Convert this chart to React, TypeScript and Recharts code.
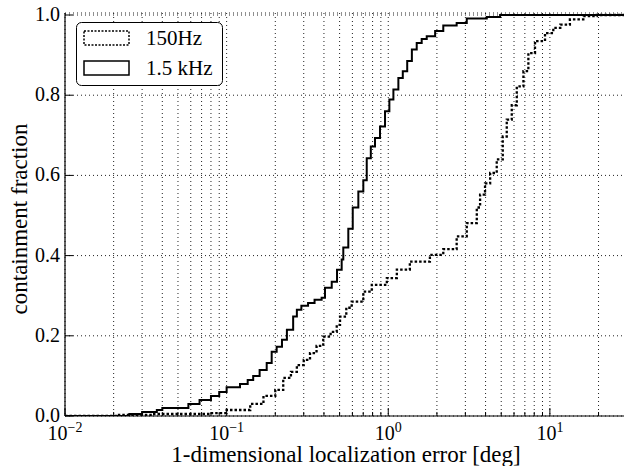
import { LineChart, Line, XAxis, YAxis, CartesianGrid, Legend } from "recharts";

const FONT = "'Liberation Serif', 'Times New Roman', serif";

// 150Hz curve (dotted): error [deg] and containment fraction
const hzError = [
  0.01, 0.021, 0.035, 0.052, 0.079, 0.1, 0.14, 0.169, 0.2, 0.224, 0.25, 0.272, 0.3, 0.328, 0.36,
  0.396, 0.44, 0.48, 0.503, 0.55, 0.594, 0.701, 0.791, 0.98, 1.13, 1.36, 1.81, 2.19, 2.65, 3.06,
  3.53, 3.7, 3.97, 4.27, 4.69, 5.11, 5.41, 5.81, 6.24, 6.86, 7.36, 8.09, 9.33, 10.5, 11.6, 13.3,
  16.1, 19.5, 30,
];
const hzFraction = [
  0, 0.003, 0.005, 0.005, 0.007, 0.015, 0.03, 0.05, 0.065, 0.095, 0.11, 0.127, 0.14, 0.157, 0.175,
  0.198, 0.21, 0.227, 0.248, 0.27, 0.285, 0.31, 0.327, 0.344, 0.365, 0.385, 0.402, 0.416, 0.448,
  0.481, 0.52, 0.552, 0.58, 0.606, 0.64, 0.697, 0.739, 0.775, 0.822, 0.86, 0.905, 0.935, 0.955,
  0.968, 0.976, 0.989, 0.997, 1.0, 1.0,
];

// 1.5 kHz curve (solid)
const khzError = [
  0.01, 0.02, 0.025, 0.03, 0.037, 0.04, 0.052, 0.058, 0.068, 0.08, 0.09, 0.1, 0.121, 0.135, 0.146,
  0.16, 0.177, 0.19, 0.204, 0.22, 0.236, 0.258, 0.272, 0.29, 0.319, 0.35, 0.387, 0.406, 0.447,
  0.482, 0.515, 0.527, 0.566, 0.603, 0.653, 0.701, 0.736, 0.78, 0.828, 0.889, 0.955, 1.016, 1.076,
  1.155, 1.23, 1.31, 1.4, 1.5, 1.61, 1.73, 1.95, 2.19, 2.65, 3.06, 4.07, 4.92, 30,
];
const khzFraction = [
  0, 0, 0.005, 0.01, 0.015, 0.02, 0.02, 0.03, 0.04, 0.05, 0.06, 0.072, 0.08, 0.09, 0.1, 0.115,
  0.132, 0.16, 0.173, 0.19, 0.215, 0.248, 0.265, 0.275, 0.282, 0.29, 0.295, 0.32, 0.335, 0.365,
  0.39, 0.42, 0.467, 0.52, 0.56, 0.588, 0.643, 0.672, 0.693, 0.722, 0.76, 0.789, 0.814, 0.843,
  0.86, 0.885, 0.914, 0.93, 0.94, 0.947, 0.96, 0.974, 0.98, 0.991, 0.995, 1.0, 1.0,
];

const majorTicks = [0.01, 0.1, 1, 10];
const minorTicks = [
  0.02, 0.03, 0.04, 0.05, 0.06, 0.07, 0.08, 0.09, 0.2, 0.3, 0.4, 0.5, 0.6, 0.7, 0.8, 0.9, 2, 3, 4,
  5, 6, 7, 8, 9, 20,
];
const yTicks = [0, 0.2, 0.4, 0.6, 0.8, 1.0];
const seriesNames = ["150Hz", "1.5 kHz"];

const hzData = hzError.map((x, i) => ({ x, y: hzFraction[i] }));
const khzData = khzError.map((x, i) => ({ x, y: khzFraction[i] }));
const xTicks = [...majorTicks, ...minorTicks].sort((a, b) => a - b);

const tickLen = (v: number) => (majorTicks.includes(v) ? 8 : 4);

const BottomTick = ({ x, y, payload }: any) => {
  const v = payload.value;
  const exp = Math.round(Math.log10(v));
  return (
    <g>
      <line x1={x} x2={x} y1={y} y2={y - tickLen(v)} stroke="#000" />
      {majorTicks.includes(v) && (
        <text x={x} y={y + 24} textAnchor="middle" fontSize={20} fontFamily={FONT} fill="#000">
          10
          <tspan dy={-8} fontSize={14}>
            {exp < 0 ? `\u2212${-exp}` : `${exp}`}
          </tspan>
        </text>
      )}
    </g>
  );
};

const TopTick = ({ x, y, payload }: any) => (
  <line x1={x} x2={x} y1={y} y2={y + tickLen(payload.value)} stroke="#000" />
);

const LeftTick = ({ x, y, payload }: any) => (
  <g>
    <line x1={x} x2={x + 8} y1={y} y2={y} stroke="#000" />
    <text x={x - 5} y={y - 1} dy="0.35em" textAnchor="end" fontSize={20} fontFamily={FONT} fill="#000">
      {payload.value.toFixed(1)}
    </text>
  </g>
);

const RightTick = ({ x, y }: any) => <line x1={x} x2={x - 8} y1={y} y2={y} stroke="#000" />;

const LegendBox = () => (
  <svg width={148} height={66}>
    <rect x={0.5} y={0.5} width={146} height={63} rx={5} fill="#fff" stroke="#000" />
    {seriesNames.map((name, i) => (
      <g key={name}>
        <rect
          x={8}
          y={9 + i * 30}
          width={45}
          height={14}
          fill="#fff"
          stroke="#000"
          strokeWidth={1.5}
          strokeDasharray={i === 0 ? "2 1.5" : undefined}
        />
        <text x={70} y={23 + i * 30} fontSize={21} fontFamily={FONT} fill="#000">
          {name}
        </text>
      </g>
    ))}
  </svg>
);

export default function App() {
  return (
    <div style={{ position: "absolute", left: 0, top: 0, width: 624, height: 466, overflow: "hidden", background: "#fff" }}>
      <LineChart width={630} height={466} margin={{ top: 13, right: 3, bottom: 0, left: 0 }}>
        <CartesianGrid stroke="#222" strokeDasharray="1 3" />
        <XAxis
          type="number"
          dataKey="x"
          scale="log"
          domain={[0.01, 30]}
          allowDataOverflow
          ticks={xTicks}
          interval={0}
          height={50}
          tickSize={0}
          tickMargin={0}
          tickLine={false}
          tick={<BottomTick />}
          axisLine={{ stroke: "#000", strokeWidth: 1.2 }}
          label={{
            value: "1-dimensional localization error [deg]",
            position: "insideBottom",
            offset: 4,
            fontSize: 23,
            fontFamily: FONT,
            fill: "#000",
          }}
        />
        <XAxis
          xAxisId="top"
          orientation="top"
          type="number"
          dataKey="x"
          scale="log"
          domain={[0.01, 30]}
          allowDataOverflow
          ticks={xTicks}
          interval={0}
          height={0}
          tickSize={0}
          tickMargin={0}
          tickLine={false}
          tick={<TopTick />}
          axisLine={{ stroke: "#000", strokeWidth: 1.2 }}
        />
        <YAxis
          type="number"
          domain={[0, 1.005]}
          allowDataOverflow
          ticks={yTicks}
          interval={0}
          width={65}
          tickSize={0}
          tickMargin={0}
          tickLine={false}
          tick={<LeftTick />}
          axisLine={{ stroke: "#000", strokeWidth: 1.2 }}
          label={{
            content: () => (
              <text
                x={27}
                y={219}
                transform="rotate(-90 27 219)"
                textAnchor="middle"
                fontSize={23}
                fontFamily={FONT}
                fill="#000"
              >
                containment fraction
              </text>
            ),
          }}
        />
        <YAxis
          yAxisId="right"
          orientation="right"
          type="number"
          domain={[0, 1.005]}
          allowDataOverflow
          ticks={yTicks}
          interval={0}
          width={0}
          tickSize={0}
          tickMargin={0}
          tickLine={false}
          tick={<RightTick />}
          axisLine={{ stroke: "#000", strokeWidth: 1.2 }}
        />
        <Legend
          layout="vertical"
          align="center"
          verticalAlign="middle"
          wrapperStyle={{ left: 76, top: 22, width: 148, height: 66 }}
          content={<LegendBox />}
        />
        <Line
          data={hzData}
          dataKey="y"
          type="stepAfter"
          stroke="#000"
          strokeWidth={2.3}
          strokeDasharray="2.5 2"
          dot={false}
          isAnimationActive={false}
          name={seriesNames[0]}
        />
        <Line
          data={khzData}
          dataKey="y"
          type="stepAfter"
          stroke="#000"
          strokeWidth={2}
          dot={false}
          isAnimationActive={false}
          name={seriesNames[1]}
        />
      </LineChart>
    </div>
  );
}
